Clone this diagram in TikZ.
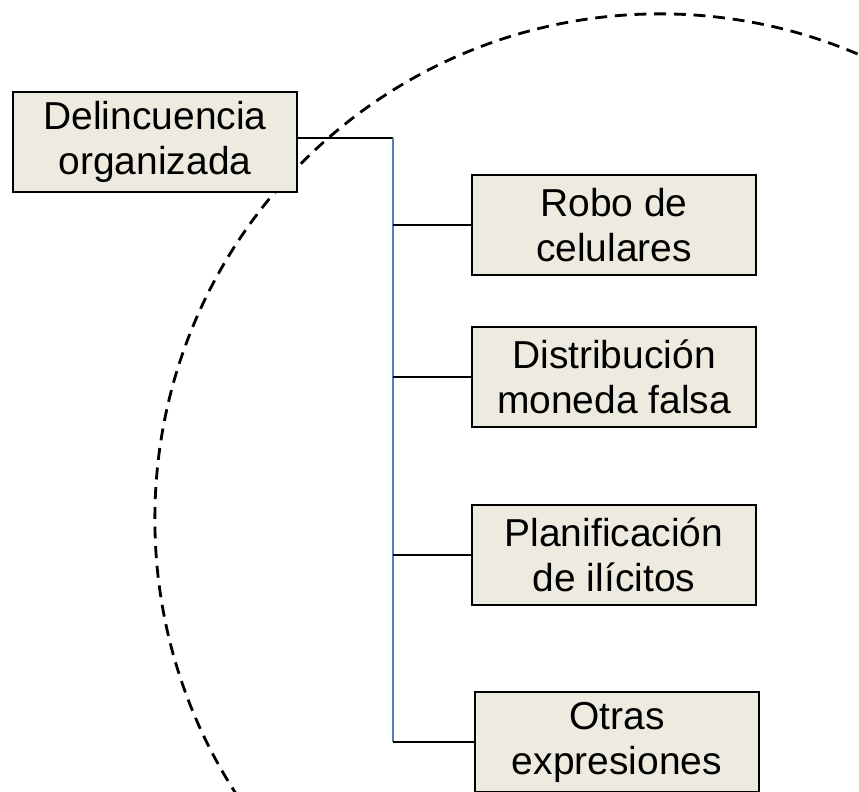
\documentclass[tikz,border=0pt]{standalone}
\usepackage{fontspec}
\setmainfont{Liberation Sans}
\definecolor{cajafondo}{RGB}{237,235,224}
\definecolor{troncoazul}{RGB}{79,129,189}
\tikzset{
	caja/.style={draw, line width=1.7pt, fill=cajafondo, minimum width=7.1cm, minimum height=2.5cm, align=center, inner sep=1mm, font=\fontsize{27.7}{32}\selectfont},
	rama/.style={line width=1.5pt},
}
\begin{document}
\begin{tikzpicture}[x=0.025cm, y=-0.025cm]
			\useasboundingbox (0,0) rectangle (859,791);
			%\draw [help lines] (0,0) grid (859,791);
			\draw[dashed, line width=2pt, dash pattern=on 8.5pt off 5.5pt] (660,519) circle (12.625cm);
			\node[caja] (delin) at (155,142) {Delincuencia\\organizada};
			\node[caja] (robo) at (614,225) {Robo de\\celulares};
			\node[caja] (moneda) at (614,377) {Distribución\\moneda falsa};
			\node[caja] (ilicitos) at (614,555) {Planificación\\de ilícitos};
			\node[caja] (otras) at (617,742) {Otras\\expresiones};
			\coordinate (arriba) at (393,138);
			\coordinate (abajo) at (393,742);
			\draw[rama] (delin.east |- arriba) -- (arriba);
			\draw[line width=1.6pt, troncoazul] (arriba) -- (abajo);
			\draw[rama] (robo.west) -- (robo.west -| arriba);
			\draw[rama] (moneda.west) -- (moneda.west -| arriba);
			\draw[rama] (ilicitos.west) -- (ilicitos.west -| arriba);
			\draw[rama] (otras.west) -- (otras.west -| arriba);
		\end{tikzpicture}
\end{document}
